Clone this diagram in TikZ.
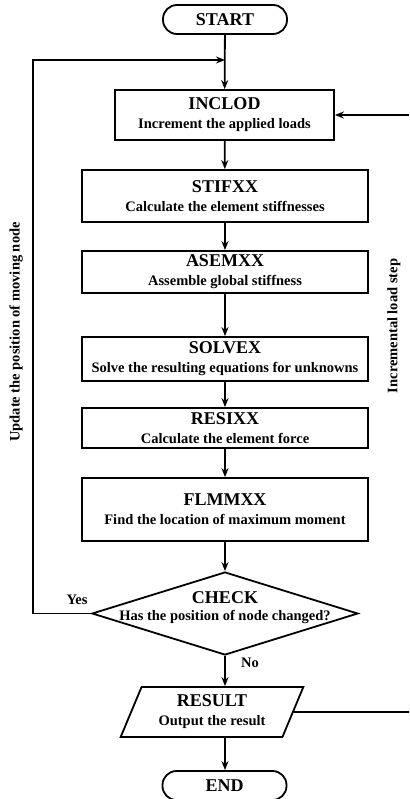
\documentclass[tikz,border=0pt]{standalone}
\usepackage{fontspec}
\setmainfont{Liberation Serif}
\usetikzlibrary{shapes.geometric,arrows.meta}
\newcommand{\ttlfont}[1]{{\fontsize{18}{19}\selectfont #1}}
\tikzset{
  lw/.style={line width=1.8pt},
  proc/.style={draw, lw, minimum width=286pt, align=center, inner sep=2pt,
    font=\fontsize{14.5}{19}\selectfont\bfseries},
  term/.style={draw, lw, rounded corners=14pt, minimum width=124pt, minimum height=29pt,
    font=\fontsize{18}{19}\selectfont\bfseries},
  conn/.style={lw, -{Stealth[length=9pt,width=7pt]}},
  plain/.style={lw},
  lbl/.style={font=\fontsize{14.5}{17}\selectfont\bfseries}
}
\begin{document}
\begin{tikzpicture}[x=1pt,y=-1pt]
\useasboundingbox (0,0) rectangle (409,799);
\node[term] (start) at (225,19.5) {START};
\node[proc, minimum width=219pt, minimum height=50pt] (inclod) at (224.5,115) {\ttlfont{INCLOD}\\Increment the applied loads};
\node[proc, minimum height=52pt] (stifxx) at (225,196) {\ttlfont{STIFXX}\\Calculate the element stiffnesses};
\node[proc, minimum height=42pt] (asemxx) at (225,272) {\ttlfont{ASEMXX}\\Assemble global stiffness};
\node[proc, minimum height=44pt] (solvex) at (225,359) {\ttlfont{SOLVEX}\\Solve the resulting equations for unknowns};
\node[proc, minimum height=40pt] (resixx) at (225,428) {\ttlfont{RESIXX}\\Calculate the element force};
\node[proc, minimum height=63pt] (flmmxx) at (225,509.5) {\ttlfont{FLMMXX}\\Find the location of maximum moment};
\node[diamond, draw, lw, minimum width=266pt, minimum height=83pt, inner sep=0pt] (check) at (225,613.5) {};
\node[align=center, font=\fontsize{14.5}{17}\selectfont\bfseries] (checktext) at (225,608) {\ttlfont{CHECK}\\Has the position of node changed?};
\node[trapezium, trapezium left angle=65, trapezium right angle=115, trapezium stretches=true,
  draw, lw, minimum width=183pt, minimum height=50pt, align=center, inner sep=0pt,
  font=\fontsize{14.5}{19}\selectfont\bfseries] (result) at (212,712) {\ttlfont{RESULT}\\Output the result};
\node[term] (end) at (224.5,785.5) {END};

\coordinate (loopin) at (225,60);
\coordinate (lt) at (33,60);
\coordinate (lb) at (33,613.5);
\coordinate (rb) at (409,712);
\coordinate (rt) at (409,115);

\draw[conn] (start) -- (inclod);
\draw[conn] (inclod) -- (stifxx);
\draw[conn] (stifxx) -- (asemxx);
\draw[conn] (asemxx) -- (solvex);
\draw[conn] (solvex) -- (resixx);
\draw[conn] (resixx) -- (flmmxx);
\draw[conn] (flmmxx) -- (check.north);
\draw[conn] (check.south) -- (check.south |- result.north);
\draw[conn] (check.south |- result.south) -- (check.south |- end.north);
\draw[conn] (check.west) -- (lb) -- (lt) -- (loopin);
\draw[plain] (result.east) -- (rb);
\draw[conn] (rt) -- (inclod.east);

\node[lbl] (yes) at (77,600) {Yes};
\node[lbl] (no) at (250,663) {No};
\node[lbl, rotate=90] (upd) at (16,332) {Update the position of moving node};
\node[lbl, rotate=90] (inc) at (394,326) {Incremental load step};
\end{tikzpicture}
\end{document}
